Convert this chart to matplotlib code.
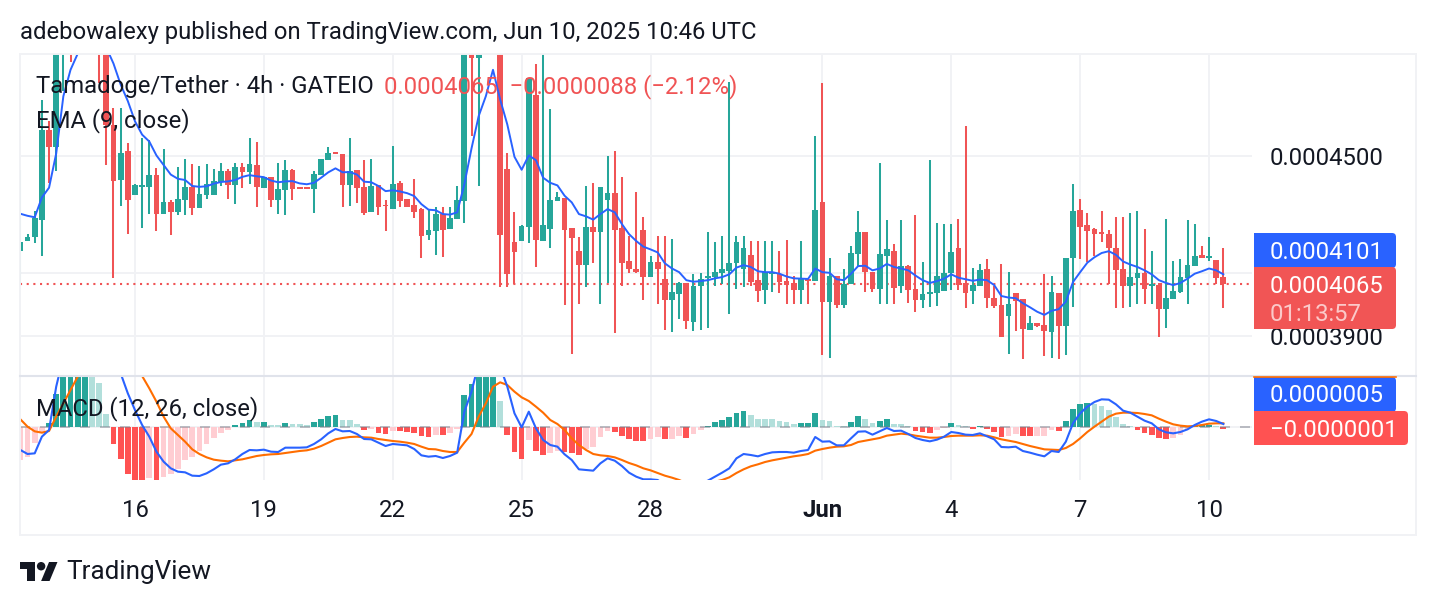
import matplotlib
matplotlib.use("Agg")
import matplotlib.pyplot as plt
from matplotlib.patches import Circle, FancyBboxPatch, Polygon, Rectangle

# prices are in units of 0.0000001, 4h bars
PRICE_UNIT = 1e-7

opens = [
    4172, 4206, 4220, 4277, 4595, 4533, 4890, 5000, 4900, 4950,
    4910, 4980, 4900, 4614, 4415, 4517, 4363, 4391, 4391, 4434,
    4297, 4338, 4304, 4345, 4390, 4318, 4362, 4362, 4408, 4448,
    4397, 4461, 4444, 4468, 4387, 4424, 4345, 4379, 4451, 4390,
    4390, 4383, 4431, 4485, 4514, 4506, 4396, 4451, 4390, 4304,
    4396, 4328, 4314, 4403, 4348, 4328, 4314, 4225, 4239, 4297,
    4246, 4280, 4342, 4950, 4863, 4950, 5020, 4960, 4455, 4201,
    4205, 4253, 4722, 4205, 4246, 4342, 4352, 4249, 4174, 4126,
    4253, 4236, 4345, 4369, 4249, 4140, 4113, 4242, 4086, 4136,
    4080, 4013, 4032, 4067, 3943, 4058, 4083, 4086, 4099, 4106,
    4133, 4113, 4160, 4077, 4045, 4098, 4096, 4074, 4067, 4045,
    4080, 4074, 4338, 4007, 4092, 3997, 4064, 4164, 4236, 4102,
    4048, 4157, 4174, 4058, 4123, 4048, 4013, 4032, 4035, 4042,
    4099, 4184, 4067, 4042, 4058, 4113, 4020, 3997, 3962, 4035,
    4016, 3918, 3940, 3934, 3912, 4035, 3931, 4150, 4311, 4260,
    4246, 4236, 4229, 4184, 4113, 4058, 4083, 4099, 4058, 4061,
    3985, 4016, 4039, 4083, 4123, 4160, 4151, 4143, 4086,
]
highs = [
    4451, 4228, 4306, 4703, 4626, 4950, 5020, 5050, 4990, 5000,
    5000, 5020, 4950, 4676, 4674, 4546, 4400, 4564, 4556, 4457,
    4525, 4345, 4460, 4489, 4470, 4465, 4472, 4455, 4474, 4453,
    4474, 4474, 4564, 4551, 4424, 4424, 4474, 4485, 4455, 4390,
    4390, 4448, 4489, 4532, 4514, 4506, 4564, 4451, 4485, 4489,
    4396, 4345, 4536, 4413, 4348, 4420, 4318, 4314, 4321, 4321,
    4321, 4393, 4950, 5000, 5000, 5050, 5100, 5000, 4510, 4304,
    4260, 4788, 4841, 4900, 4670, 4372, 4352, 4249, 4219, 4393,
    4403, 4390, 4499, 4517, 4427, 4222, 4372, 4287, 4157, 4222,
    4222, 4212, 4070, 4067, 4096, 4099, 4236, 4201, 4222, 4774,
    4222, 4222, 4205, 4205, 4205, 4205, 4174, 4208, 4092, 4205,
    4080, 4573, 4770, 4150, 4092, 4113, 4188, 4307, 4236, 4102,
    4475, 4277, 4195, 4277, 4126, 4294, 4136, 4485, 4266, 4263,
    4263, 4280, 4610, 4116, 4130, 4147, 4058, 4130, 4102, 4035,
    4016, 3962, 3940, 4096, 4092, 4035, 4150, 4400, 4348, 4301,
    4249, 4307, 4242, 4287, 4287, 4301, 4307, 4246, 4174, 4067,
    4280, 4140, 4147, 4277, 4263, 4188, 4219, 4143, 4184,
]
lows = [
    4066, 4206, 4198, 4155, 4403, 4448, 4738, 4850, 4890, 4900,
    4890, 4769, 4469, 4084, 4326, 4229, 4363, 4249, 4297, 4240,
    4297, 4226, 4295, 4295, 4295, 4318, 4348, 4362, 4394, 4348,
    4331, 4387, 4400, 4321, 4387, 4321, 4297, 4295, 4345, 4383,
    4383, 4301, 4431, 4485, 4507, 4321, 4325, 4335, 4294, 4304,
    4294, 4239, 4314, 4321, 4321, 4283, 4150, 4208, 4160, 4154,
    4246, 4280, 4266, 4571, 4393, 4900, 4900, 4056, 4056, 4066,
    4205, 4198, 4119, 4205, 4181, 4342, 3997, 3845, 4000, 4054,
    4133, 4000, 4067, 3908, 4058, 4099, 4099, 4013, 4086, 4000,
    3918, 3912, 3953, 3921, 3915, 3918, 3924, 4058, 4064, 3969,
    4048, 4054, 4058, 4007, 4000, 4039, 4035, 4000, 4000, 4000,
    4000, 4074, 3842, 3832, 3988, 3988, 4064, 4123, 4039, 4039,
    4000, 4000, 4000, 4035, 4003, 3975, 3988, 3991, 3994, 4042,
    4045, 4045, 3988, 4000, 4058, 3988, 3988, 3896, 3845, 3915,
    3829, 3918, 3927, 3839, 3832, 3829, 3842, 3991, 4147, 4136,
    4157, 4201, 4064, 3988, 3988, 3991, 4000, 4000, 4000, 3896,
    3924, 4016, 4035, 4000, 4123, 4150, 4140, 4064, 3988,
]
closes = [
    4204, 4219, 4283, 4595, 4533, 4930, 5000, 4900, 4895, 4910,
    4960, 4900, 4614, 4411, 4512, 4346, 4397, 4396, 4434, 4297,
    4338, 4304, 4348, 4390, 4318, 4365, 4400, 4413, 4448, 4397,
    4461, 4444, 4472, 4390, 4424, 4345, 4383, 4451, 4383, 4383,
    4383, 4437, 4489, 4510, 4507, 4396, 4448, 4386, 4301, 4393,
    4321, 4323, 4400, 4342, 4321, 4304, 4222, 4242, 4297, 4242,
    4283, 4345, 4900, 4866, 4950, 5020, 4960, 4225, 4096, 4171,
    4256, 4788, 4208, 4260, 4345, 4355, 4242, 4215, 4126, 4253,
    4236, 4390, 4369, 4242, 4133, 4113, 4102, 4086, 4136, 4113,
    4013, 4039, 4067, 3947, 4058, 4080, 4089, 4102, 4113, 4133,
    4201, 4181, 4070, 4042, 4102, 4102, 4070, 4061, 4045, 4080,
    4075, 4311, 4007, 4089, 3997, 4064, 4167, 4236, 4102, 4048,
    4164, 4178, 4051, 4123, 4045, 4013, 4032, 4039, 4089, 4099,
    4171, 4061, 4035, 4061, 4109, 4020, 3994, 3896, 4000, 4010,
    3921, 3940, 3931, 3915, 4039, 3931, 4150, 4307, 4253, 4239,
    4229, 4229, 4181, 4109, 4058, 4086, 4099, 4048, 4064, 3985,
    4020, 4042, 4086, 4126, 4157, 4150, 4157, 4083, 4065,
]
ema_values = [
    4298, 4291, 4286, 4354, 4388, 4509, 4719, 4819, 4881, 4930,
    4930, 4918, 4905, 4843, 4763, 4701, 4626, 4577, 4552, 4502,
    4468, 4434, 4419, 4415, 4394, 4391, 4393, 4402, 4408, 4410,
    4415, 4426, 4432, 4428, 4425, 4413, 4407, 4410, 4411, 4403,
    4400, 4405, 4423, 4442, 4456, 4442, 4443, 4434, 4409, 4407,
    4394, 4376, 4379, 4375, 4369, 4359, 4331, 4312, 4310, 4297,
    4295, 4303, 4400, 4527, 4645, 4719, 4819, 4707, 4614, 4497,
    4451, 4502, 4485, 4423, 4405, 4396, 4360, 4337, 4297, 4289,
    4278, 4297, 4314, 4303, 4263, 4229, 4206, 4187, 4178, 4168,
    4132, 4115, 4103, 4077, 4072, 4074, 4077, 4083, 4087, 4096,
    4118, 4126, 4120, 4106, 4103, 4103, 4098, 4089, 4083, 4082,
    4081, 4115, 4103, 4101, 4080, 4077, 4098, 4123, 4124, 4109,
    4115, 4130, 4120, 4115, 4109, 4092, 4077, 4068, 4074, 4082,
    4096, 4085, 4080, 4075, 4079, 4077, 4061, 4026, 4021, 4019,
    4003, 3990, 3976, 3966, 3979, 3984, 4008, 4071, 4103, 4134,
    4152, 4166, 4172, 4160, 4138, 4128, 4120, 4109, 4096, 4077,
    4068, 4061, 4068, 4082, 4098, 4106, 4115, 4109, 4096,
]

# MACD pane, same unit
hist_values = [
    -50, -45, -25, -8, 6, 49, 85, 90, 95, 98,
    76, 65, 19, -26, -48, -71, -85, -90, -77, -85,
    -76, -71, -63, -50, -45, -37, -26, -17, -10, -5,
    2.5, 5, 10, 6.5, 7, 2.5, 2, 6, 4, 3.5,
    2.5, 7, 11, 16, 18, 10, 9.5, 4, -5, -4,
    -10, -11, -6.5, -7, -8, -9, -14, -15, -12.5, -13,
    -9, -3.5, 47.5, 64, 80, 85, 88, 38, -12.5, -38,
    -48, -20, -36.5, -42.5, -39.5, -36.5, -38, -39.5, -42.5, -33.5,
    -30.5, -15.5, -6.5, -8, -14, -18.5, -21.5, -22, -18.5, -15.5,
    -18.5, -18.5, -14, -17, -11, -5, 1, 7, 10, 14.5,
    20.5, 23.5, 17.5, 12, 11.5, 11, 8.5, 7, 4, 5.5,
    5.5, 20.5, 10, 8.5, 1, 0.8, 7, 16, 11.5, 5.5,
    8.5, 11.5, 4, 3.5, 0.5, -6.5, -8, -9.5, -5, -2,
    5.5, 2.5, 1, -3.5, 1, -3.5, -8, -15.5, -14, -11,
    -14, -14.5, -14, -13.5, -5, -6.5, 8.5, 26.5, 34, 35.5,
    34, 31, 25, 14.5, 4, 1, -5, -9.5, -12.5, -17,
    -18.5, -17, -12.5, -3, 1, 2.5, 2.5, 1, -3.5,
]
macd_values = [
    -35, -41, -40, -15, -5, 60, 105, 145, 160, 165,
    160, 140, 115, 95, 80, 50, 25, 2.5, -15, -37.5,
    -52.5, -62.5, -67.5, -68.5, -73.5, -74, -70, -64, -57, -55,
    -49, -41, -35, -35.5, -34.5, -37.5, -38, -31.5, -31.5, -31.5,
    -31, -26, -19, -10, -3.5, -7, -6.5, -11, -18.5, -19,
    -24, -29, -26, -27, -28, -33.5, -43, -45, -44, -47,
    -44, -39, 22.5, 52.5, 95, 115, 105, 90, 60, 20,
    -1, 22.5, -2.5, -20, -27.5, -30, -41.5, -50, -64, -65,
    -66, -55, -47.5, -51, -59, -69, -75, -79, -79, -80,
    -87.5, -92, -95, -90, -89, -85, -81, -75, -69, -62.5,
    -47.5, -41, -42.5, -44.5, -41, -38.5, -38, -38, -39, -36.5,
    -35, -15.5, -22.5, -22, -28, -28, -17.5, -7.5, -7, -12,
    -7, -2, -6.5, -6, -11, -17, -20, -22, -19.5, -15,
    -8, -9.5, -12, -12.5, -10, -14.5, -19, -30.5, -31, -30,
    -36.5, -39, -42, -44.5, -36.5, -38, -22.5, 5, 20, 30,
    37, 41, 40.5, 33.5, 24, 21, 15, 9, 5, -4,
    -8.5, -10, -8, -4, 2.5, 7.5, 11, 8.5, 4,
]
signal_values = [
    11, 0, -7, -9, -6.5, 15, 35, 55, 75, 95,
    110, 115, 120, 115, 105, 95, 82.5, 76, 57.5, 37.5,
    15, -2.5, -12.5, -22.5, -34, -41, -46, -49.5, -51, -52,
    -50.5, -49, -46.5, -44, -42.5, -41.5, -41, -39.5, -38, -36.5,
    -35.5, -33, -29, -24, -19, -17, -15.5, -15, -16, -16.5,
    -18.5, -20, -21.5, -22.5, -24, -26, -30, -33.5, -34, -36.5,
    -38, -38, -24, -11, 15, 35, 60, 66.5, 62.5, 52.5,
    44, 38.5, 30, 21, 10, 4, -5, -17.5, -27.5, -35,
    -41, -43, -44, -46, -50, -54.5, -58, -62.5, -65.5, -69.5,
    -73.5, -76.5, -80, -85, -87.5, -87.5, -85, -82.5, -80, -76,
    -69.5, -64, -59.5, -56.5, -53, -50.5, -48.5, -46.5, -44.5, -43,
    -41, -36, -33.5, -31.5, -30, -29.5, -27.5, -23, -21, -19,
    -17, -13.5, -12, -10.5, -11.5, -13.5, -15, -16.5, -16.5, -15.5,
    -14, -13.5, -13.5, -13.5, -13, -13.5, -16, -19, -21, -23,
    -26, -29, -31.5, -34, -34.5, -35, -32, -26, -17.5, -8,
    0, 7.5, 15, 19.5, 21, 21, 20.5, 19, 17, 12,
    7.5, 3.5, 1.5, 0.5, 1, 2.5, 4.5, 5, 5,
]

tick_bars = [16, 34, 52, 70, 88, 112, 130, 148, 166]
tick_labels = ["16", "19", "22", "25", "28", "Jun", "4", "7", "10"]
price_ticks = [3900, 4100, 4500]
# the 0.00041 gridline has its label covered by the EMA tag, as in the original
price_tick_labels = ["0.0003900", "", "0.0004500"]
last_close = 4065

GREEN = "#26A69A"
RED = "#F05455"
BRIGHT_RED = "#FF5252"
LIGHT_GREEN = "#B2DFDB"
PINK = "#FFCDD2"
BLUE = "#2962FF"
ORANGE = "#FF6D00"
GRID = "#F1F2F5"
TEXT = "#131722"
W, H = 1436, 606

plt.rcParams["font.family"] = ["Roboto", "DejaVu Sans"]
FS = 17.2


def place(left, top, right, bottom):
    return [left / W, (H - bottom) / H, (right - left) / W, (bottom - top) / H]


fig = plt.figure(figsize=(W / 100, H / 100), dpi=100)
ax = fig.add_axes(place(20, 54, 1252, 375))
ax_macd = fig.add_axes(place(20, 376, 1252, 480))
over = fig.add_axes([0, 0, 1, 1], zorder=10)
over.set_xlim(0, W)
over.set_ylim(H, 0)
over.axis("off")
over.patch.set_alpha(0)

bars = list(range(len(closes)))
x_range = (-0.056, 172.0)

# candles
colors = [GREEN if c >= o else RED for o, c in zip(opens, closes)]
body_low = [min(o, c) * PRICE_UNIT for o, c in zip(opens, closes)]
body_size = [abs(c - o) * PRICE_UNIT for o, c in zip(opens, closes)]
ax.set_yscale("log")
ax.vlines(bars, [v * PRICE_UNIT for v in lows], [v * PRICE_UNIT for v in highs],
          colors=colors, linewidth=1.45, zorder=3)
ax.bar(bars, body_size, bottom=body_low, width=0.8, color=colors, linewidth=0, zorder=3)
ax.plot(bars, [v * PRICE_UNIT for v in ema_values], color=BLUE, linewidth=1.4, zorder=4)
ax.axhline(last_close * PRICE_UNIT, color=RED, linewidth=1.5, linestyle=(0, (1, 2.2)), zorder=2)

ax.set_xlim(*x_range)
ax.set_ylim(3781 * PRICE_UNIT, 4880 * PRICE_UNIT)
ax.set_yticks([v * PRICE_UNIT for v in price_ticks])
ax.set_yticklabels(price_tick_labels, fontsize=FS, color=TEXT)
ax.minorticks_off()
ax.yaxis.tick_right()
ax.tick_params(axis="y", length=0, pad=13)
ax.set_xticks(tick_bars)
ax.tick_params(axis="x", length=0, labelbottom=False)
ax.grid(True, color=GRID, linewidth=1.4, zorder=0)
ax.set_axisbelow(True)

# macd pane
hist_colors = []
for i, v in enumerate(hist_values):
    rising = i == 0 or v >= hist_values[i - 1]
    if v >= 0:
        hist_colors.append(GREEN if rising else LIGHT_GREEN)
    else:
        hist_colors.append(PINK if rising else BRIGHT_RED)
ax_macd.bar(bars, hist_values, width=0.8, color=hist_colors, linewidth=0, zorder=2)
ax_macd.axhline(0, color="#787B86", alpha=0.55, linewidth=1.2, linestyle=(0, (6, 6)), zorder=3)
ax_macd.plot(bars, signal_values, color=ORANGE, linewidth=1.5, zorder=4)
ax_macd.plot(bars, macd_values, color=BLUE, linewidth=1.5, zorder=5)
ax_macd.set_xlim(*x_range)
ax_macd.set_ylim(-80, 76)
ax_macd.set_yticks([0])
ax_macd.tick_params(axis="y", length=0, labelright=False, labelleft=False)
ax_macd.set_xticks(tick_bars)
ax_macd.set_xticklabels(tick_labels, fontsize=FS, color=TEXT)
ax_macd.get_xticklabels()[5].set_fontweight("bold")
ax_macd.tick_params(axis="x", length=0, pad=14)
ax_macd.grid(True, color=GRID, linewidth=1.4, zorder=0)
ax_macd.set_axisbelow(True)

for a in (ax, ax_macd):
    for s in a.spines.values():
        s.set_visible(False)

# frame and pane separator
over.add_patch(Rectangle((20, 54), 1396, 481, fill=False, edgecolor=GRID, linewidth=1.4))
over.plot([20, 1416], [375.5, 375.5], color="#E0E3EB", linewidth=1.5)


def label_box(left, top, right, bottom, color):
    over.add_patch(FancyBboxPatch((left + 3, top + 3), right - left - 6, bottom - top - 6,
                                  boxstyle="round,pad=3,rounding_size=4",
                                  facecolor=color, edgecolor="none"))
    over.add_patch(Rectangle((left, top), 8, bottom - top, facecolor=color, edgecolor="none"))


def label(x, y, s, color=TEXT, size=FS, **kw):
    over.text(x, y + 1.5, s, color=color, fontsize=size, va="center", **kw)


label_box(1254, 233, 1396, 268, BLUE)
label_box(1254, 267, 1396, 329, "#F15555")
over.plot([1254, 1396], [376.5, 376.5], color=ORANGE, linewidth=1.2)
label_box(1254, 377, 1396, 412, BLUE)
label_box(1254, 411, 1408, 445, BRIGHT_RED)
label(1270, 251, "0.0004101", "white")
label(1270, 285, "0.0004065", "white")
label(1270, 313, "01:13:57", "#FBC9C9")
label(1270, 394, "0.0000005", "white")
label(1270, 429, "\u22120.0000001", "white")

# header and legends
label(20, 31, "adebowalexy published on TradingView.com, Jun 10, 2025 10:46 UTC")
label(36, 85, "Tamadoge/Tether \u00b7 4h \u00b7 GATEIO")
label(384, 85, "0.0004065  \u22120.0000088 (\u22122.12%)", RED)
label(36, 119, "EMA (9, close)")
label(36, 407, "MACD (12, 26, close)")

# tradingview logo
sx = 38 / 36
lx = lambda v: 20 + v * sx
ly = lambda v: 562 + (v - 4) * sx
over.add_patch(Polygon([(lx(14), ly(22)), (lx(7), ly(22)), (lx(7), ly(11)), (lx(0), ly(11)),
                        (lx(0), ly(4)), (lx(14), ly(4))], facecolor=TEXT, edgecolor="none"))
over.add_patch(Polygon([(lx(28), ly(22)), (lx(20), ly(22)), (lx(27.5), ly(4)), (lx(35.5), ly(4))],
                       facecolor=TEXT, edgecolor="none"))
over.add_patch(Circle((lx(20), ly(8)), 4 * sx, facecolor=TEXT, edgecolor="none"))
label(66, 571, "TradingView", size=18.8)

fig.savefig("out.png", dpi=100)
